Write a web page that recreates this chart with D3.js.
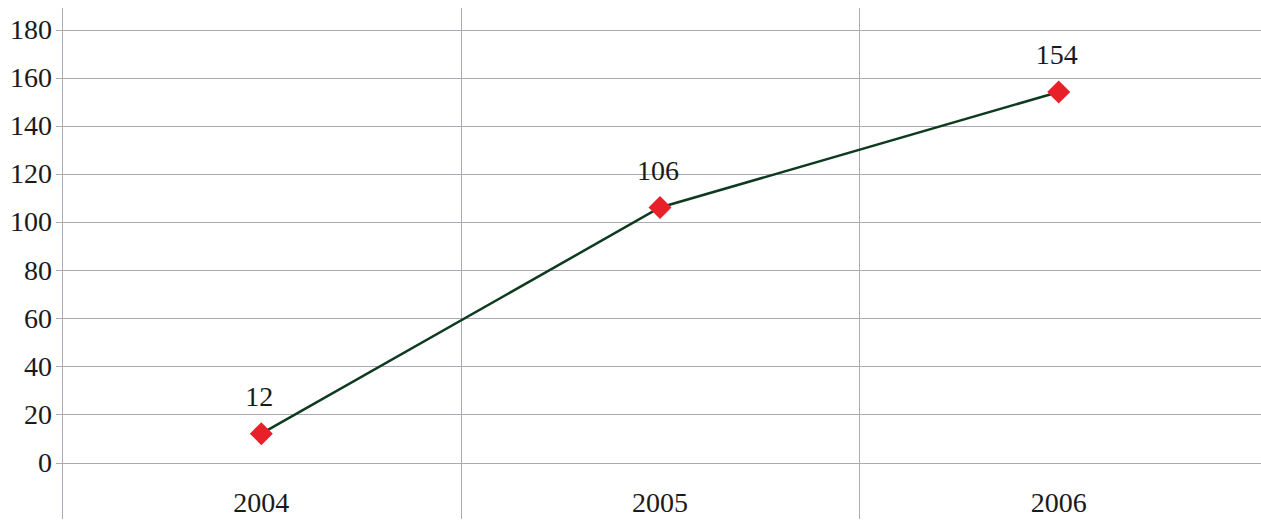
<!DOCTYPE html>
<html>
<head>
<meta charset="utf-8">
<script src="https://cdn.jsdelivr.net/npm/d3@7"></script>
<style>
  html, body { margin: 0; padding: 0; background: #fff; }
  svg { display: block; }
</style>
</head>
<body>
<svg id="chart" width="1261" height="522"></svg>
<script>
// Yearly totals
const years = ["2004", "2005", "2006"];
const values = [12, 106, 154];
const yTicks = [0, 20, 40, 60, 80, 100, 120, 140, 160, 180];

(function () {
  const W = 1261;
  const plotLeft = 62, plotRight = 1258, plotTop = 29.5, plotBottom = 462.5;
  const FONT = "'Liberation Serif'";

  const svg = d3.select("#chart");

  const x = d3.scaleBand().domain(years).range([plotLeft, plotRight]).padding(0);
  const y = d3.scaleLinear().domain([0, 180]).range([plotBottom, plotTop]);

  const gridColor = "#aaaab4";
  const textColor = "#1a1a1a";

  // Horizontal gridlines with a short tick to the left of the axis
  svg.append("g")
    .selectAll("line")
    .data(yTicks)
    .join("line")
    .attr("x1", plotLeft - 6)
    .attr("x2", W)
    .attr("y1", d => Math.round(y(d)) + 0.5)
    .attr("y2", d => Math.round(y(d)) + 0.5)
    .attr("stroke", gridColor)
    .attr("stroke-width", 1);

  // Vertical category separators (left axis + band boundaries)
  svg.append("g")
    .selectAll("line")
    .data(years)
    .join("line")
    .attr("x1", d => Math.round(x(d)) + 0.5)
    .attr("x2", d => Math.round(x(d)) + 0.5)
    .attr("y1", 8)
    .attr("y2", 519)
    .attr("stroke", gridColor)
    .attr("stroke-width", 1);

  // Y tick labels
  svg.append("g")
    .selectAll("text")
    .data(yTicks)
    .join("text")
    .attr("x", plotLeft - 10)
    .attr("y", d => y(d))
    .attr("dy", "0.34em")
    .attr("text-anchor", "end")
    .attr("font-family", FONT)
    .attr("font-size", 28)
    .attr("fill", textColor)
    .text(d => d);

  // X category labels
  svg.append("g")
    .selectAll("text")
    .data(years)
    .join("text")
    .attr("x", d => x(d) + x.bandwidth() / 2)
    .attr("y", 512)
    .attr("text-anchor", "middle")
    .attr("font-family", FONT)
    .attr("font-size", 28)
    .attr("fill", textColor)
    .text(d => d);

  const pts = years.map((yr, i) => ({ yr, v: values[i] }));
  const cx = d => x(d.yr) + x.bandwidth() / 2;

  // Series line
  svg.append("path")
    .datum(pts)
    .attr("fill", "none")
    .attr("stroke", "#0e3b1f")
    .attr("stroke-width", 2.5)
    .attr("d", d3.line().x(cx).y(d => y(d.v)));

  // Diamond markers
  svg.append("g")
    .selectAll("path")
    .data(pts)
    .join("path")
    .attr("transform", d => `translate(${cx(d)},${y(d.v)})`)
    .attr("d", "M0,-11.5L11.5,0L0,11.5L-11.5,0Z")
    .attr("fill", "#e8202a");

  // Value labels
  svg.append("g")
    .selectAll("text")
    .data(pts)
    .join("text")
    .attr("x", d => cx(d) - 2)
    .attr("y", d => y(d.v) - 28)
    .attr("text-anchor", "middle")
    .attr("font-family", FONT)
    .attr("font-size", 28)
    .attr("fill", textColor)
    .text(d => d.v);
})();
</script>
</body>
</html>
